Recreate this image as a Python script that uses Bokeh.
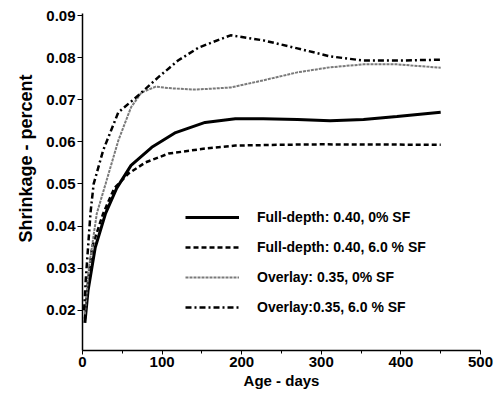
from bokeh.plotting import figure
from bokeh.models import Range1d, SingleIntervalTicker, FixedTicker, Legend, LegendItem, Title
from bokeh.embed import file_html
from bokeh.resources import INLINE

# ---- data ----
fd0_days = [3, 7, 16, 29, 43, 61, 87, 117, 154, 192, 227, 270, 311, 353, 395, 450]
fd0_vals = [0.017, 0.0247, 0.0349, 0.0430, 0.0490, 0.0544, 0.0587, 0.0622, 0.0646,
            0.0655, 0.0655, 0.0653, 0.0650, 0.0653, 0.0660, 0.0670]

fd6_days = [3, 7, 12, 26, 40, 58, 79, 108, 154, 192, 248, 300, 450]
fd6_vals = [0.018, 0.027, 0.035, 0.043, 0.049, 0.0525, 0.0551, 0.0572, 0.0584,
            0.0591, 0.0593, 0.0594, 0.0593]

ov0_days = [3, 8, 18, 29, 45, 61, 74, 92, 112, 142, 186, 227, 270, 311, 353, 395, 450]
ov0_vals = [0.019, 0.030, 0.043, 0.050, 0.0603, 0.0682, 0.0717, 0.0731, 0.0727,
            0.0724, 0.0729, 0.0746, 0.0765, 0.0777, 0.0784, 0.0784, 0.0776]

ov6_days = [2, 4, 10, 14, 26, 45, 70, 95, 120, 146, 186, 227, 270, 311, 353, 395, 450]
ov6_vals = [0.020, 0.027, 0.043, 0.050, 0.058, 0.067, 0.071, 0.0753, 0.0793,
            0.0824, 0.0853, 0.0841, 0.0822, 0.0803, 0.0793, 0.0793, 0.0795]

labels = ["Full-depth: 0.40, 0% SF", "Full-depth: 0.40, 6.0 % SF",
          "Overlay: 0.35, 0% SF", "Overlay:0.35, 6.0 % SF"]
y_ticks = [0.02, 0.03, 0.04, 0.05, 0.06, 0.07, 0.08, 0.09]
y_title = "Shrinkage - percent"
x_title = "Age - days"

FONT = "Liberation Sans"

p = figure(width=494, height=402, output_backend="svg", toolbar_location=None,
           x_range=Range1d(0, 500), y_range=Range1d(0.01043, 0.09048),
           min_border_left=82, min_border_right=14, min_border_top=13,
           min_border_bottom=52)
p.outline_line_color = None
p.grid.visible = False
p.background_fill_color = "white"
p.border_fill_color = "white"

r1 = p.line(fd0_days, fd0_vals, line_color="black", line_width=3)
r2 = p.line(fd6_days, fd6_vals, line_color="black", line_width=2.5, line_dash="5 3")
r3 = p.line(ov0_days, ov0_vals, line_color="#7a7a7a", line_width=2, line_dash="3 1")
r4 = p.line(ov6_days, ov6_vals, line_color="black", line_width=2.5, line_dash="6 3 2 3")

# axes
xa = p.xaxis[0]
xa.ticker = SingleIntervalTicker(interval=100, num_minor_ticks=2)
xa.major_tick_out = 4
xa.major_tick_in = 0
xa.minor_tick_out = 3
xa.minor_tick_in = 0
xa.major_label_standoff = 2
xa.axis_label = x_title
xa.axis_label_standoff = 2
xa.axis_label_text_font = FONT
xa.axis_label_text_font_style = "bold"
xa.axis_label_text_font_size = "15px"
xa.axis_label_text_color = "black"
xa.major_label_text_font = FONT
xa.major_label_text_font_style = "bold"
xa.major_label_text_font_size = "15px"
xa.major_label_text_color = "black"
xa.axis_line_width = 1.5
xa.axis_line_color = "black"
xa.major_tick_line_color = "black"
xa.minor_tick_line_color = "black"

ya = p.yaxis[0]
ya.ticker = FixedTicker(ticks=y_ticks)
ya.major_tick_out = 5
ya.major_tick_in = 0
ya.minor_tick_out = 0
ya.minor_tick_in = 0
ya.major_label_standoff = 2
ya.major_label_text_font = FONT
ya.major_label_text_font_style = "bold"
ya.major_label_text_font_size = "15px"
ya.major_label_text_color = "black"
ya.axis_line_width = 1.5
ya.axis_line_color = "black"
ya.major_tick_line_color = "black"

# y-axis title as a left-side title (align="left" so that offset applies)
ytitle = Title(text=y_title, align="left", offset=108, standoff=15,
               text_font=FONT, text_font_style="bold", text_font_size="18px",
               text_color="black")
p.add_layout(ytitle, "left")

legend = Legend(items=[LegendItem(label=labels[0], renderers=[r1]),
                       LegendItem(label=labels[1], renderers=[r2]),
                       LegendItem(label=labels[2], renderers=[r3]),
                       LegendItem(label=labels[3], renderers=[r4])],
                location=(103, 33), glyph_width=54, glyph_height=20, label_height=20,
                spacing=10, padding=0, margin=0, label_standoff=18,
                border_line_color=None, background_fill_alpha=0,
                label_text_font=FONT, label_text_font_style="bold",
                label_text_font_size="14px", label_text_color="black")
p.add_layout(legend, "center")

open("out.html", "w").write(file_html(p, INLINE))
